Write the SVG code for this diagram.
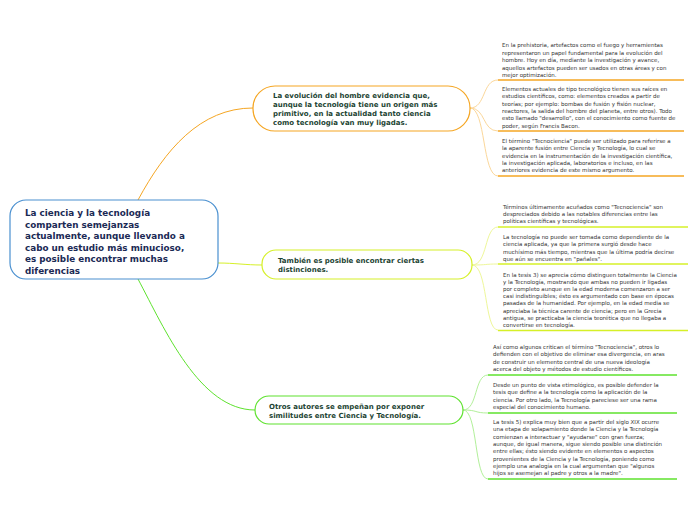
<svg xmlns="http://www.w3.org/2000/svg" width="696" height="520" viewBox="0 0 696 520">
<style>
.bg{fill:#fff}
.root rect{fill:#fff;stroke:#4a90d0;stroke-width:1.2}
.root text{font-family:"DejaVu Sans",Verdana,sans-serif;font-weight:bold;font-size:8.8px;fill:#1b2a55}
.main text{font-family:"DejaVu Sans",Verdana,sans-serif;font-weight:bold;font-size:7px;fill:#1d4433}
.main rect{fill:#fff;stroke-width:1.2}
.sub text{font-family:"DejaVu Sans",Verdana,sans-serif;font-size:5.5px;fill:#333}
.c{fill:none;stroke-width:1}
.o{stroke:#f5a623}
.y{stroke:#d6f028}
.g{stroke:#5ee22e}
.ul{fill:none;stroke-width:1.6}
</style>
<rect class="bg" width="696" height="520"/>
<g id="connectors">
<path class="c o" d="M138,200 C165,150 200,108 253,108"/>
<path class="c y" d="M218,263 C235,263 245,265 262,265"/>
<path class="c g" d="M138,279 C165,330 200,410 255,410"/>
<path class="c o" style="stroke:#fbd79a" d="M470,108 C486,108 482,80 498,80"/>
<path class="c o" style="stroke:#fbd79a" d="M470,108 C486,108 482,131 498,131"/>
<path class="c o" style="stroke:#fbd79a" d="M470,108 C486,108 482,176 498,176"/>
<path class="c y" style="stroke:#eef79a" d="M472,265 C488,265 484,227 498,227"/>
<path class="c y" style="stroke:#eef79a" d="M472,265 C488,265 484,264 498,264"/>
<path class="c y" style="stroke:#eef79a" d="M472,265 C488,265 484,330 498,330"/>
<path class="c g" style="stroke:#b2f09a" d="M463,410 C478,410 474,375 488,375"/>
<path class="c g" style="stroke:#b2f09a" d="M463,410 C478,410 474,413 488,413"/>
<path class="c g" style="stroke:#b2f09a" d="M463,410 C478,410 474,479 488,479"/>
</g>
<g id="root" class="root">
<rect x="10" y="200" width="208" height="79" rx="16"/>
<text x="25" y="216">La ciencia y la tecnología</text>
<text x="25" y="227.5">comparten semejanzas</text>
<text x="25" y="239">actualmente, aunque llevando a</text>
<text x="25" y="250.5">cabo un estudio más minucioso,</text>
<text x="25" y="262">es posible encontrar muchas</text>
<text x="25" y="273.5">diferencias</text>
</g>
<g id="n1" class="main">
<rect x="253" y="86" width="217" height="45" rx="22" style="stroke:#f5a623"/>
<text x="273" y="98">La evolución del hombre evidencia que,</text>
<text x="273" y="107">aunque la tecnología tiene un origen más</text>
<text x="273" y="116">primitivo, en la actualidad tanto ciencia</text>
<text x="273" y="125">como tecnología van muy ligadas.</text>
</g>
<g id="n2" class="main">
<rect x="262" y="250" width="210" height="29" rx="14" style="stroke:#d6f028"/>
<text x="278" y="263">También es posible encontrar ciertas</text>
<text x="278" y="272">distinciones.</text>
</g>
<g id="n3" class="main">
<rect x="255" y="396" width="208" height="28" rx="14" style="stroke:#5ee22e"/>
<text x="269" y="408.5">Otros autores se empeñan por exponer</text>
<text x="269" y="417.5">similitudes entre Ciencia y Tecnología.</text>
</g>
<g id="n1a" class="sub">
<text x="502" y="47">En la prehistoria, artefactos como el fuego y herramientas</text>
<text x="502" y="54.5">representaron un papel fundamental para la evolución del</text>
<text x="502" y="62">hombre. Hoy en día, mediante la investigación y avance,</text>
<text x="502" y="69.5">aquellos artefactos pueden ser usados en otras áreas y con</text>
<text x="502" y="77">mejor optimización.</text>
<path class="ul o" d="M498,80 H684"/>
</g>
<g id="n1b" class="sub">
<text x="502" y="91">Elementos actuales de tipo tecnológico tienen sus raíces en</text>
<text x="502" y="98.3">estudios científicos, como: elementos creados a partir de</text>
<text x="502" y="105.6">teorías; por ejemplo: bombas de fusión y fisión nuclear,</text>
<text x="502" y="112.9">reactores, la salida del hombre del planeta, entre otros). Todo</text>
<text x="502" y="120.2">esto llamado "desarrollo", con el conocimiento como fuente de</text>
<text x="502" y="127.5">poder, según Francis Bacon.</text>
<path class="ul o" d="M498,131 H684"/>
</g>
<g id="n1c" class="sub">
<text x="502" y="143">El término "Tecnociencia" puede ser utilizado para referirse a</text>
<text x="502" y="150.3">la aparente fusión entre Ciencia y Tecnología, lo cual se</text>
<text x="502" y="157.6">evidencia en la instrumentación de la investigación científica,</text>
<text x="502" y="164.9">la investigación aplicada, laboratorios e incluso, en las</text>
<text x="502" y="172.2">anteriores evidencia de este mismo argumento.</text>
<path class="ul o" d="M498,176 H684"/>
</g>
<g id="n2a" class="sub">
<text x="503" y="208.5">Términos últimamente acuñados como "Tecnociencia" son</text>
<text x="503" y="215.8">despreciados debido a las notables diferencias entre las</text>
<text x="503" y="223.1">políticas científicas y tecnológicas.</text>
<path class="ul y" d="M498,227 H688"/>
</g>
<g id="n2b" class="sub">
<text x="503" y="239">La tecnología no puede ser tomada como dependiente de la</text>
<text x="503" y="246.3">ciencia aplicada, ya que la primera surgió desde hace</text>
<text x="503" y="253.6">muchísimo más tiempo, mientras que la última podría decirse</text>
<text x="503" y="260.9">que aún se encuentra en "pañales".</text>
<path class="ul y" d="M498,264 H688"/>
</g>
<g id="n2c" class="sub">
<text x="503" y="276.5">En la tesis 3) se aprecia cómo distinguen totalmente la Ciencia</text>
<text x="503" y="283.7">y la Tecnología, mostrando que ambas no pueden ir ligadas</text>
<text x="503" y="290.9">por completo aunque en la edad moderna comenzaron a ser</text>
<text x="503" y="298.1">casi indistinguibles; ésto es argumentado con base en épocas</text>
<text x="503" y="305.3">pasadas de la humanidad. Por ejemplo, en la edad media se</text>
<text x="503" y="312.5">apreciaba la técnica carente de ciencia; pero en la Grecia</text>
<text x="503" y="319.7">antigua, se practicaba la ciencia teorética que no llegaba a</text>
<text x="503" y="326.9">convertirse en tecnología.</text>
<path class="ul y" d="M498,330.5 H688"/>
</g>
<g id="n3a" class="sub">
<text x="493" y="349">Así como algunos critican el término "Tecnociencia", otros lo</text>
<text x="493" y="356.3">defienden con el objetivo de eliminar esa divergencia, en aras</text>
<text x="493" y="363.6">de construir un elemento central de una nueva ideología</text>
<text x="493" y="370.9">acerca del objeto y métodos de estudio científicos.</text>
<path class="ul g" d="M488,375 H677"/>
</g>
<g id="n3b" class="sub">
<text x="493" y="387">Desde un punto de vista etimológico, es posible defender la</text>
<text x="493" y="394.3">tesis que define a la tecnología como la aplicación de la</text>
<text x="493" y="401.6">ciencia. Por otro lado, la Tecnología pareciese ser una rama</text>
<text x="493" y="408.9">especial del conocimiento humano.</text>
<path class="ul g" d="M488,413 H677"/>
</g>
<g id="n3c" class="sub">
<text x="493" y="424">La tesis 5) explica muy bien que a partir del siglo XIX ocurre</text>
<text x="493" y="431.3">una etapa de solapamiento donde la Ciencia y la Tecnología</text>
<text x="493" y="438.6">comienzan a interactuar y "ayudarse" con gran fuerza;</text>
<text x="493" y="445.9">aunque, de igual manera, sigue siendo posible una distinción</text>
<text x="493" y="453.2">entre ellas; ésto siendo evidente en elementos o aspectos</text>
<text x="493" y="460.5">provenientes de la Ciencia y la Tecnología, poniendo como</text>
<text x="493" y="467.8">ejemplo una analogía en la cual argumentan que "algunos</text>
<text x="493" y="475.1">hijos se asemejan al padre y otros a la madre".</text>
<path class="ul g" d="M488,479 H677"/>
</g>
</svg>
